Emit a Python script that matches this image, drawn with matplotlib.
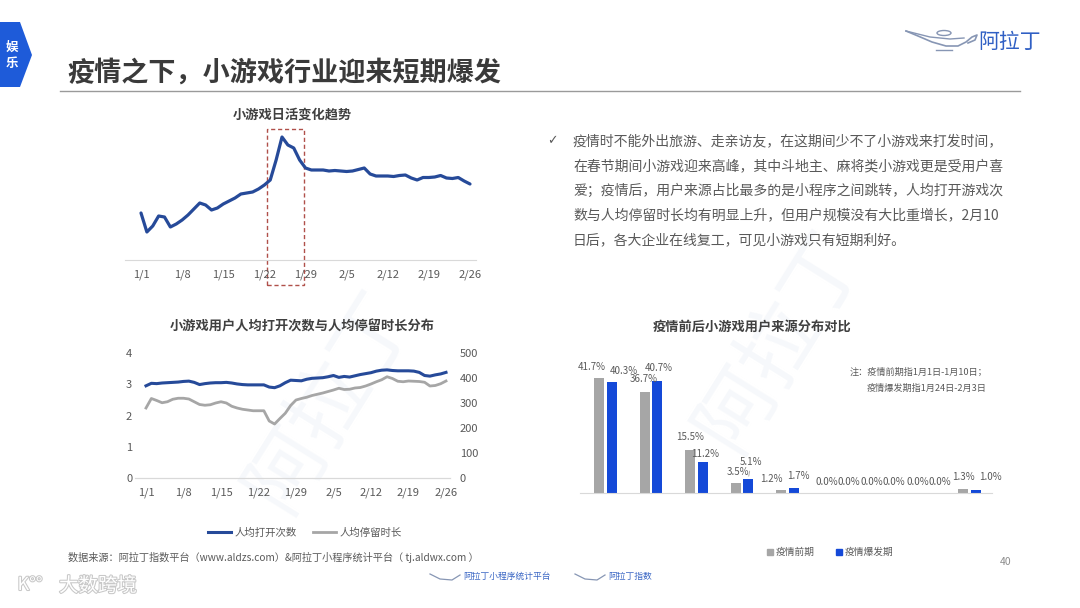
import matplotlib
matplotlib.use("Agg")
import matplotlib.pyplot as plt
import numpy as np
from matplotlib.patches import Polygon, Rectangle, Ellipse
from matplotlib.lines import Line2D
import matplotlib.transforms as mtransforms
import matplotlib.patheffects as pe

plt.rcParams['font.family'] = ['Noto Sans CJK SC', 'DejaVu Sans']

# ---------------- data ----------------
date_ticks = [0, 7, 14, 21, 28, 35, 42, 49, 56]
date_labels = ["1/1", "1/8", "1/15", "1/22", "1/29", "2/5", "2/12", "2/19", "2/26"]

# daily active users (relative index, axis hidden), 1/1 .. 2/26
dau_index = [47, 28, 34, 44, 43, 33, 36, 40, 45, 51,
             57, 55, 50, 52, 56, 59, 62, 66, 67, 68,
             71, 75, 80, 100, 123, 115, 112, 100, 92, 90,
             90, 90, 89, 89.5, 89, 88.5, 89, 90.5, 92, 86,
             84, 84, 84, 83.5, 84.5, 85, 82, 80, 82.5, 82.5,
             83, 84.5, 82, 81.5, 82.5, 79, 76]

# average opens per user (left axis)
opens_per_user = [2.95, 3.03, 3.02, 3.04, 3.05, 3.06, 3.07, 3.09, 3.10, 3.06,
                  2.99, 3.02, 3.04, 3.05, 3.05, 3.06, 3.04, 3.01, 2.99, 2.98,
                  2.98, 2.98, 2.98, 2.91, 2.89, 2.95, 3.05, 3.13, 3.12, 3.11,
                  3.16, 3.19, 3.20, 3.21, 3.24, 3.28, 3.22, 3.25, 3.23, 3.27,
                  3.31, 3.34, 3.37, 3.42, 3.45, 3.46, 3.44, 3.43, 3.43, 3.43,
                  3.42, 3.38, 3.28, 3.26, 3.30, 3.33, 3.38]

# average stay time per user (right axis)
stay_per_user = [280, 318, 310, 301, 305, 315, 319, 319, 316, 305,
                 294, 291, 293, 300, 305, 300, 287, 280, 275, 272,
                 269, 269, 269, 228, 216, 238, 259, 290, 312, 318,
                 323, 330, 335, 340, 346, 352, 359, 354, 355, 360,
                 362, 368, 376, 385, 393, 405, 398, 387, 385, 388,
                 387, 386, 383, 368, 370, 377, 388]

source_categories = ["来源1", "来源2", "来源3", "来源4", "来源5", "来源6", "来源7", "来源8", "来源9"]
pre_outbreak = [41.7, 36.7, 15.5, 3.5, 1.2, 0.0, 0.0, 0.0, 1.3]
outbreak = [40.3, 40.7, 11.2, 5.1, 1.7, 0.0, 0.0, 0.0, 1.0]

series_names = ["人均打开次数", "人均停留时长"]
bar_names = ["疫情前期", "疫情爆发期"]

# highlight window on the DAU chart (day index)
highlight_days = (21.5, 27.7)

# ---------------- layout helpers ----------------
W, H = 1080, 608
fig = plt.figure(figsize=(10.8, 6.08), dpi=100)
fig.patch.set_facecolor('white')


def box(l, t, r, b):
    return [l / W, 1 - b / H, (r - l) / W, (b - t) / H]


def fp(x, y):
    return (x / W, 1 - y / H)


TXT = '#595959'
GRID = '#d9d9d9'
NAVY = '#264a99'
GREY = '#a6a6a6'
BLUE = '#1449d8'

# very faint background watermark (behind everything)
for (x, y, rot) in [(330, 400, 58), (780, 340, 58)]:
    fig.text(*fp(x, y), "阿拉丁", fontsize=58, color='#f6f8fb', rotation=rot,
             ha='center', va='center', zorder=-5)

# ---------------- header ----------------
tab = Polygon([fp(0, 22), fp(20, 22), fp(32, 55), fp(20, 87), fp(0, 87)],
              closed=True, transform=fig.transFigure, facecolor='#1e5bd9',
              edgecolor='none')
fig.add_artist(tab)
fig.text(*fp(12, 47), "娱", color='white', fontsize=9, fontweight='bold', ha='center', va='center')
fig.text(*fp(12, 63), "乐", color='white', fontsize=9, fontweight='bold', ha='center', va='center')

fig.text(*fp(67, 73), "疫情之下，小游戏行业迎来短期爆发", fontsize=19.5, fontweight='bold',
         color='#3a3a3a', ha='left', va='center')
fig.add_artist(Line2D([60 / W, 1020 / W], [1 - 91 / H, 1 - 91 / H],
                      transform=fig.transFigure, color='#9a9a9a', lw=1.0))

# logo top right
lamp_x = np.array([906, 918, 932, 946, 958, 966, 972, 977, 975, 968])
lamp_y = np.array([31, 36, 42, 46, 46, 42, 37, 35, 40, 43])
fig.add_artist(Line2D(lamp_x / W, 1 - lamp_y / H, transform=fig.transFigure,
                      color='#8796b4', lw=1.2))
fig.add_artist(Line2D(np.array([906, 930, 950, 964]) / W, 1 - np.array([31, 37, 39, 38]) / H,
                      transform=fig.transFigure, color='#8796b4', lw=1.0))
fig.add_artist(Ellipse(fp(944, 33), 14 / W, 5 / H, transform=fig.transFigure,
                       facecolor='none', edgecolor='#8796b4', lw=1.0))
fig.add_artist(Line2D([936 / W, 952 / W], [1 - 50 / H, 1 - 50 / H], transform=fig.transFigure,
                      color='#8796b4', lw=1.0))
fig.text(*fp(1010, 42), "阿拉丁", fontsize=15, color='#2f5fc4', ha='center', va='center')

# ---------------- top chart: DAU ----------------
ax1 = fig.add_axes(box(125, 130, 476, 260))
days = np.arange(len(dau_index))
ax1.plot(days, dau_index, color=NAVY, lw=2.3, solid_joinstyle='round', solid_capstyle='round')
ax1.set_xlim(-(141 - 125) / 5.875, 56 + (476 - 470) / 5.875)
ax1.set_ylim(0, 130)
ax1.set_xticks(date_ticks)
ax1.set_xticklabels(date_labels)
ax1.set_yticks([])
for s in ['top', 'right', 'left']:
    ax1.spines[s].set_visible(False)
ax1.spines['bottom'].set_color(GRID)
ax1.tick_params(axis='x', length=0, labelsize=8, labelcolor=TXT, pad=7)
ax1.patch.set_alpha(0)
trans = mtransforms.blended_transform_factory(ax1.transData, ax1.transAxes)
ax1.add_patch(Rectangle((highlight_days[0], -25 / 130), highlight_days[1] - highlight_days[0],
                        (285 - 129) / 130, transform=trans, fill=False,
                        edgecolor='#b0504a', lw=1.0, ls=(0, (3, 2)), clip_on=False))
fig.text(*fp(292, 115), "小游戏日活变化趋势", fontsize=9.5, fontweight='bold',
         color='#404040', ha='center', va='center')

# ---------------- text block ----------------
lines = ["疫情时不能外出旅游、走亲访友，在这期间少不了小游戏来打发时间，",
         "在春节期间小游戏迎来高峰，其中斗地主、麻将类小游戏更是受用户喜",
         "爱；疫情后，用户来源占比最多的是小程序之间跳转，人均打开游戏次",
         "数与人均停留时长均有明显上升，但用户规模没有大比重增长，2月10",
         "日后，各大企业在线复工，可见小游戏只有短期利好。"]
fig.text(*fp(552, 141), "✓", fontsize=9, color=TXT, ha='center', va='center',
         family=['DejaVu Sans'])
for i, ln in enumerate(lines):
    fig.text(*fp(573, 141 + i * 24.8), ln, fontsize=10, color=TXT, ha='left', va='center')

# ---------------- bottom-left chart ----------------
ax2 = fig.add_axes(box(135, 353, 450, 478))
ax2.plot(days, opens_per_user, color=NAVY, lw=2.2, label=series_names[0], zorder=3)
ax2.set_ylim(0, 4)
ax2.set_yticks([0, 1, 2, 3, 4])
ax2.set_xlim(-(146 - 135) / 5.357, 56 + (450 - 446) / 5.357)
ax2.set_xticks(date_ticks)
ax2.set_xticklabels(date_labels)
ax2b = ax2.twinx()
ax2b.plot(days, stay_per_user, color=GREY, lw=2.0, label=series_names[1], zorder=2)
ax2b.set_ylim(0, 500)
ax2b.set_yticks([0, 100, 200, 300, 400, 500])
for a in (ax2, ax2b):
    for s in ['top', 'right', 'left']:
        a.spines[s].set_visible(False)
    a.spines['bottom'].set_color(GRID)
    a.patch.set_alpha(0)
ax2.tick_params(axis='x', length=0, labelsize=8, labelcolor=TXT, pad=7)
ax2.tick_params(axis='y', length=0, labelsize=8, labelcolor=TXT, pad=2)
ax2b.tick_params(axis='y', length=0, labelsize=8, labelcolor=TXT, pad=7)
ax2.set_zorder(ax2b.get_zorder() + 1)
fig.text(*fp(302, 327), "小游戏用户人均打开次数与人均停留时长分布", fontsize=9.5,
         fontweight='bold', color='#404040', ha='center', va='center')
h1 = Line2D([], [], color=NAVY, lw=2.2)
h2 = Line2D([], [], color=GREY, lw=2.0)
fig.legend([h1, h2], series_names, loc='center', bbox_to_anchor=fp(305, 533), ncol=2,
           frameon=False, fontsize=7.5, handlelength=2.2, handletextpad=0.3,
           columnspacing=1.6, labelcolor=TXT)

# ---------------- bottom-right chart ----------------
ax3 = fig.add_axes(box(580, 369, 992, 493))
x = np.arange(len(source_categories))
bw = 0.22
off = 0.14
ax3.bar(x - off, pre_outbreak, width=bw, color=GREY, label=bar_names[0])
ax3.bar(x + off, outbreak, width=bw, color=BLUE, label=bar_names[1])
ax3.set_xlim(-0.56, 8.5)
ax3.set_ylim(0, 45)
ax3.set_xticks([])
ax3.set_yticks([])
for s in ['top', 'right', 'left']:
    ax3.spines[s].set_visible(False)
ax3.spines['bottom'].set_color(GRID)
ax3.patch.set_alpha(0)

# label placement (pixel offsets) mimicking the manual layout of the original
pre_dx = [-7, -1, 0, 2, -10, 0, 0, 0, 1]
pre_dy = [11, 13, 13, 11, 11, 11, 11, 11, 12]
post_dx = [12, 1, 2, 3, 5, 10, 9, 10, 15]
post_dy = [11, 13, 8, 17, 12, 11, 11, 11, 13]
for i in range(len(x)):
    ax3.annotate(f"{pre_outbreak[i]:.1f}%", (x[i] - off, pre_outbreak[i]),
                 xytext=(pre_dx[i], pre_dy[i]), textcoords='offset pixels',
                 ha='center', va='center', fontsize=7.0, color=TXT, annotation_clip=False)
    kw = {}
    if post_dy[i] > 15:
        kw['arrowprops'] = dict(arrowstyle='-', color='#a0a0a0', lw=0.6,
                                shrinkA=1, shrinkB=2)
    ax3.annotate(f"{outbreak[i]:.1f}%", (x[i] + off, outbreak[i]),
                 xytext=(post_dx[i], post_dy[i]), textcoords='offset pixels',
                 ha='center', va='center', fontsize=7.0, color=TXT, annotation_clip=False,
                 **kw)

fig.text(*fp(752, 327), "疫情前后小游戏用户来源分布对比", fontsize=9.5,
         fontweight='bold', color='#404040', ha='center', va='center')
fig.text(*fp(987, 372), "注：疫情前期指1月1日-1月10日；", fontsize=6.6, color=TXT,
         ha='right', va='center')
fig.text(*fp(987, 388), "疫情爆发期指1月24日-2月3日", fontsize=6.6, color=TXT,
         ha='right', va='center')
hb1 = Line2D([], [], marker='s', ls='none', color=GREY, markersize=4)
hb2 = Line2D([], [], marker='s', ls='none', color=BLUE, markersize=4)
fig.legend([hb1, hb2], bar_names, loc='center', bbox_to_anchor=fp(830, 552), ncol=2,
           frameon=False, fontsize=7, handlelength=0.6, handletextpad=0.3,
           columnspacing=2.2, labelcolor=TXT)

# ---------------- footer ----------------
fig.text(*fp(68, 557), "数据来源：阿拉丁指数平台（www.aldzs.com）&阿拉丁小程序统计平台（ tj.aldwx.com ）",
         fontsize=7.3, color=TXT, ha='left', va='center')
fig.text(*fp(1006, 562), "40", fontsize=7.5, color='#8c8c8c', ha='center', va='center')
for (lx, label) in [(430, "阿拉丁小程序统计平台"), (575, "阿拉丁指数")]:
    fig.add_artist(Line2D(np.array([lx, lx + 10, lx + 22, lx + 30]) / W,
                          1 - np.array([574, 579, 580, 575]) / H,
                          transform=fig.transFigure, color='#8796b4', lw=0.9))
    fig.text(*fp(lx + 33, 576), label, fontsize=6.3, color='#3a66c4', ha='left', va='center')
fig.text(*fp(30, 585), "K°°", fontsize=13, color='white', ha='center', va='center',
         path_effects=[pe.withStroke(linewidth=1.5, foreground='#c8c8c8')])
fig.text(*fp(98, 586), "大数跨境", fontsize=14, color='white', ha='center', va='center',
         path_effects=[pe.withStroke(linewidth=1.5, foreground='#c8c8c8')])

fig.savefig("out.png", dpi=100, facecolor='white')
